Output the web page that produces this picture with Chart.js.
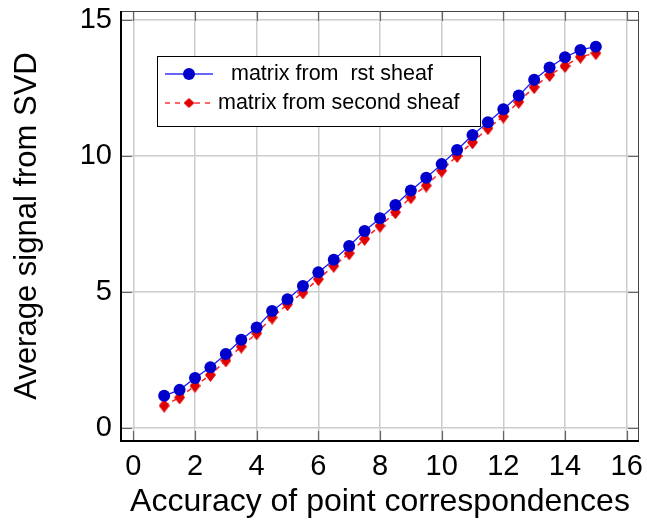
<!DOCTYPE html>
<html>
<head>
<meta charset="utf-8">
<script src="https://cdn.jsdelivr.net/npm/chart.js@4.4.0/dist/chart.umd.min.js"></script>
<style>
  html, body { margin: 0; padding: 0; background: #fff; }
</style>
</head>
<body>
<canvas id="chart" width="647" height="522"></canvas>
<script>
// values
const accuracy = [1, 1.5, 2, 2.5, 3, 3.5, 4, 4.5, 5, 5.5, 6, 6.5, 7, 7.5, 8,
  8.5, 9, 9.5, 10, 10.5, 11, 11.5, 12, 12.5, 13, 13.5, 14, 14.5, 15];
const firstSheaf = [1.19, 1.41, 1.85, 2.24, 2.73, 3.25, 3.70, 4.31, 4.74, 5.23,
  5.73, 6.19, 6.70, 7.25, 7.72, 8.21, 8.74, 9.21, 9.71, 10.23, 10.78, 11.25,
  11.73, 12.23, 12.81, 13.26, 13.64, 13.91, 14.03];
const secondSheaf = [0.83, 1.13, 1.56, 1.96, 2.49, 3.00, 3.49, 4.07, 4.56, 4.99,
  5.48, 5.97, 6.43, 6.96, 7.44, 7.94, 8.49, 8.92, 9.47, 10.01, 10.51, 11.03,
  11.46, 12.00, 12.54, 12.99, 13.32, 13.66, 13.79];
const xTicks = [0, 2, 4, 6, 8, 10, 12, 14, 16];
const yTicks = [0, 5, 10, 15];
const seriesLabels = ['matrix from  rst sheaf', 'matrix from second sheaf'];

const FONT = "'Liberation Sans', Arial, sans-serif";

function diamond(w, h, color) {
    const c = document.createElement('canvas');
    c.width = w; c.height = h;
    const g = c.getContext('2d');
    g.fillStyle = color;
    g.beginPath();
    g.moveTo(w / 2, 0); g.lineTo(w, h / 2); g.lineTo(w / 2, h); g.lineTo(0, h / 2);
    g.closePath();
    g.fill();
    return c;
}
const redDiamond = diamond(11, 14, '#e00000');
const legendDiamond = diamond(11, 10, '#e00000');

// box round the plot with inward tick marks
const framePlugin = {
    id: 'frame',
    afterDatasetsDraw(chart) {
        const { ctx, chartArea: a, scales } = chart;
        ctx.save();
        ctx.strokeStyle = '#666';
        ctx.lineWidth = 1.2;
        xTicks.forEach(v => {
            const px = Math.round(scales.x.getPixelForValue(v)) + 0.5;
            ctx.beginPath();
            ctx.moveTo(px, a.bottom); ctx.lineTo(px, a.bottom - 10);
            ctx.moveTo(px, a.top); ctx.lineTo(px, a.top + 10);
            ctx.stroke();
        });
        yTicks.forEach(v => {
            const py = Math.round(scales.y.getPixelForValue(v)) + 0.5;
            ctx.beginPath();
            ctx.moveTo(a.left, py); ctx.lineTo(a.left + 11, py);
            ctx.moveTo(a.right, py); ctx.lineTo(a.right - 11, py);
            ctx.stroke();
        });
        ctx.strokeStyle = '#444';
        ctx.lineWidth = 1;
        ctx.beginPath();
        ctx.moveTo(a.left, a.top + 0.5); ctx.lineTo(a.right - 0.5, a.top + 0.5);
        ctx.lineTo(a.right - 0.5, a.bottom);
        ctx.stroke();
        ctx.strokeStyle = '#000';
        ctx.lineWidth = 2;
        ctx.beginPath();
        ctx.moveTo(a.left, a.top); ctx.lineTo(a.left, a.bottom); ctx.lineTo(a.right, a.bottom);
        ctx.stroke();
        ctx.restore();
    }
};

// legend box inside the plot, top left
const legendBoxPlugin = {
    id: 'legendBox',
    afterDraw(chart) {
        const ctx = chart.ctx;
        const box = { x: 157.5, y: 56.5, w: 323, h: 70 };
        const rows = [74, 103];
        const textX = [231, 218];
        const markers = [null, legendDiamond];
        ctx.save();
        ctx.fillStyle = '#fff';
        ctx.fillRect(box.x, box.y, box.w, box.h);
        ctx.strokeStyle = '#000';
        ctx.lineWidth = 1;
        ctx.strokeRect(box.x, box.y, box.w, box.h);
        chart.data.datasets.forEach((ds, i) => {
            const y = rows[i];
            ctx.strokeStyle = i === 0 ? '#3333ff' : '#ff3333';
            ctx.lineWidth = 1.5;
            ctx.setLineDash(i === 0 ? [] : [5, 5]);
            ctx.beginPath();
            ctx.moveTo(165, y); ctx.lineTo(213, y);
            ctx.stroke();
            ctx.setLineDash([]);
            if (markers[i]) {
                ctx.drawImage(markers[i], 189 - markers[i].width / 2, y - markers[i].height / 2);
            } else {
                ctx.fillStyle = ds.pointBackgroundColor;
                ctx.beginPath();
                ctx.arc(189, y, ds.pointRadius, 0, Math.PI * 2);
                ctx.fill();
            }
            ctx.fillStyle = '#000';
            ctx.font = '21.5px ' + FONT;
            ctx.textBaseline = 'middle';
            ctx.fillText(ds.label, textX[i], y);
        });
        ctx.restore();
    }
};

new Chart(document.getElementById('chart').getContext('2d'), {
    type: 'line',
    data: {
        datasets: [{
            label: seriesLabels[0],
            data: accuracy.map((x, i) => ({ x: x, y: firstSheaf[i] })),
            borderColor: '#1a1aff',
            borderWidth: 1.3,
            pointStyle: 'circle',
            pointRadius: 6,
            pointBackgroundColor: '#0000cc',
            pointBorderWidth: 0,
            tension: 0
        }, {
            label: seriesLabels[1],
            data: accuracy.map((x, i) => ({ x: x, y: secondSheaf[i] })),
            borderColor: '#ff2020',
            borderWidth: 1.5,
            borderDash: [5, 4],
            pointStyle: redDiamond,
            pointRadius: 6,
            pointBackgroundColor: '#e00000',
            pointBorderWidth: 0,
            tension: 0
        }]
    },
    options: {
        responsive: false,
        devicePixelRatio: 1,
        animation: false,
        clip: false,
        layout: { padding: { left: 0, right: 8, top: 11, bottom: 0 } },
        plugins: {
            legend: { display: false },
            tooltip: { enabled: false }
        },
        scales: {
            x: {
                type: 'linear',
                min: -0.4,
                max: 16.4,
                afterFit: s => { s.height = 81; s.paddingLeft = 0; s.paddingRight = 0; },
                afterBuildTicks: s => { s.ticks = xTicks.map(v => ({ value: v })); },
                grid: { color: '#cccccc', lineWidth: 1.5, drawTicks: false },
                border: { display: false },
                ticks: {
                    color: '#000',
                    padding: 9,
                    maxRotation: 0,
                    font: { size: 29, family: FONT }
                },
                title: {
                    display: true,
                    text: 'Accuracy of point correspondences',
                    color: '#000',
                    padding: { top: 0, bottom: 1 },
                    font: { size: 32, family: FONT }
                }
            },
            y: {
                type: 'linear',
                min: -0.47,
                max: 15.34,
                afterFit: s => { s.width = 121; s.paddingTop = 0; s.paddingBottom = 0; },
                afterBuildTicks: s => { s.ticks = yTicks.map(v => ({ value: v })); },
                grid: { color: '#cccccc', lineWidth: 1.5, drawTicks: false },
                border: { display: false },
                ticks: {
                    color: '#000',
                    padding: 9,
                    font: { size: 29, family: FONT }
                },
                title: {
                    display: true,
                    text: 'Average signal from SVD',
                    color: '#000',
                    padding: { top: 9, bottom: 0 },
                    font: { size: 31, family: FONT }
                }
            }
        }
    },
    plugins: [framePlugin, legendBoxPlugin]
});
</script>
</body>
</html>
